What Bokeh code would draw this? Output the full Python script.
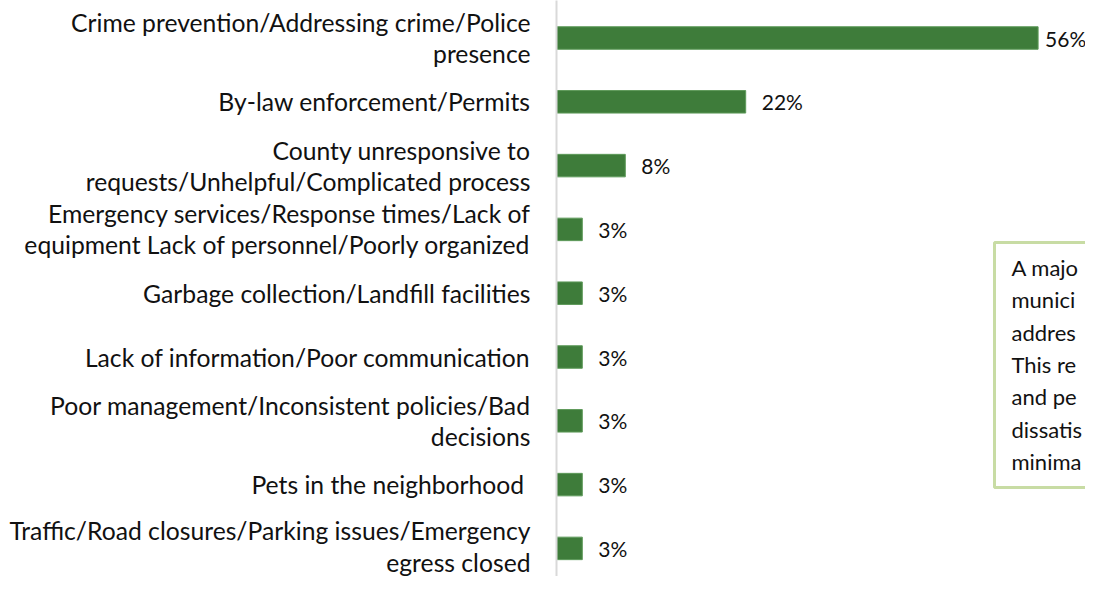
from bokeh.plotting import figure
from bokeh.models import Range1d, FixedTicker, ColumnDataSource
from bokeh.core.properties import value
from bokeh.embed import file_html
from bokeh.resources import INLINE

# ---- data ----
categories = [
    "Crime prevention/Addressing crime/Police\npresence",
    "By-law enforcement/Permits",
    "County unresponsive to\nrequests/Unhelpful/Complicated process",
    "Emergency services/Response times/Lack of\nequipment Lack of personnel/Poorly organized",
    "Garbage collection/Landfill facilities",
    "Lack of information/Poor communication",
    "Poor management/Inconsistent policies/Bad\ndecisions",
    "Pets in the neighborhood ",
    "Traffic/Road closures/Parking issues/Emergency\negress closed",
]
values = [56, 22, 8, 3, 3, 3, 3, 3, 3]
value_labels = [f"{v}%" for v in values]
note_lines = ["A majo", "munici", "addres", "This re", "and pe", "dissatis", "minima"]

# ---- layout ----
W, H = 1085, 576          # fits 1101x592 window with 8px page margin
LEFT = 556                # value-axis line position inside the figure
PX_PER_PCT = 8.6
ROW = 63.8                # pixels per category row
FIRST = 37.5              # first row centre below frame top
FONT = "Lato"

y_end = -FIRST / ROW
y_start = H / ROW + y_end


def y_of(py):
    """figure pixel (y) -> data y"""
    return py / ROW + y_end


def x_of(px):
    """figure pixel (x) -> data x"""
    return (px - LEFT) / PX_PER_PCT


p = figure(
    width=W, height=H,
    output_backend="svg", toolbar_location=None,
    x_range=Range1d(0, (W - LEFT) / PX_PER_PCT),
    y_range=Range1d(y_start, y_end),
    x_axis_location=None,
    min_border_left=LEFT, min_border_right=0, min_border_top=0, min_border_bottom=0,
)
p.outline_line_color = None
p.grid.visible = False
p.background_fill_color = "white"
p.border_fill_color = "white"

ypos = list(range(len(categories)))
offsets = [7 if v == max(values) else 16 for v in values]
src = ColumnDataSource(dict(y=ypos, v=values, lab=value_labels, off=offsets))

p.hbar(y="y", left=0, right="v", height=22.5 / ROW, source=src,
       fill_color="#3E7C3A", line_color="#5E9A5A", line_width=1)

p.text(x="v", y="y", text="lab", x_offset="off", source=src,
       text_font=value(FONT), text_font_size="21px",
       text_baseline="middle", text_align="left", text_color="#111111")

yaxis = p.yaxis[0]
yaxis.ticker = FixedTicker(ticks=ypos)
yaxis.major_label_overrides = {i: c for i, c in enumerate(categories)}
yaxis.major_tick_line_color = None
yaxis.minor_tick_line_color = None
yaxis.major_tick_out = 0
yaxis.major_tick_in = 0
yaxis.axis_line_color = "#D9D9D9"
yaxis.axis_line_width = 2
yaxis.major_label_standoff = 26
yaxis.major_label_text_font = FONT
yaxis.major_label_text_font_size = "24.7px"
yaxis.major_label_text_line_height = 1.07
yaxis.major_label_text_color = "#111111"

# ---- note box (cut off at the right edge as in the reference) ----
p.quad(left=[x_of(994)], right=[200], top=[y_of(242)], bottom=[y_of(487)],
       fill_color="white", line_color="#C8DCA4", line_width=3)
p.text(x=[x_of(1011)], y=[y_of(364)], text=["\n".join(note_lines)],
       text_font=value(FONT), text_font_size="22px", text_line_height=1.2,
       text_baseline="middle", text_align="left", text_color="#111111")

open("out.html", "w").write(file_html(p, INLINE))
